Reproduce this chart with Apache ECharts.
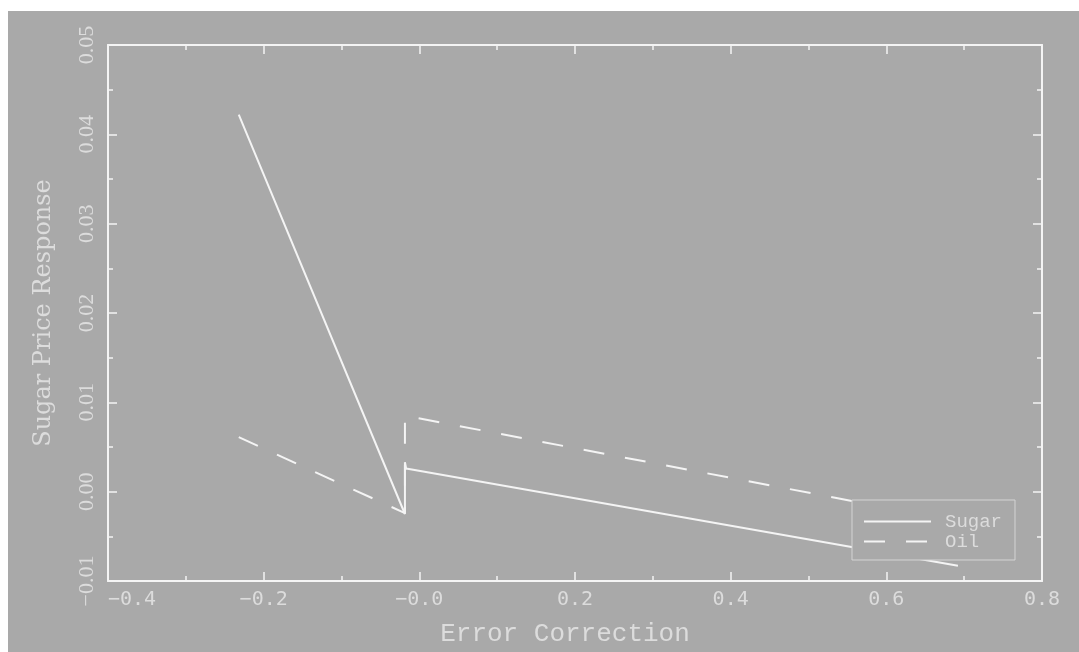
<!DOCTYPE html>
<html>
<head>
<meta charset="utf-8">
<script src="https://cdn.jsdelivr.net/npm/echarts@6/dist/echarts.min.js"></script>
<style>
  body { margin: 0; background: #ffffff; }
  #mixChart { position: absolute; left: 8px; top: 11px; width: 1071px; height: 641px; }
</style>
</head>
<body>
<div id="mixChart"></div>
<script>
// values
const sugarX = [-0.232, -0.0185, -0.0185, -0.017, 0.692]
const sugarY = [0.0422, -0.0025, 0.0033, 0.0026, -0.0083]
const oilX = [-0.232, -0.0185, -0.0185, 0.692]
const oilY = [0.0061, -0.0024, 0.0085, -0.0033]
const xTickLabels = ['\u22120.4', '\u22120.2', '\u22120.0', '0.2', '0.4', '0.6', '0.8']
const yTickLabels = ['\u22120.01', '0.00', '0.01', '0.02', '0.03', '0.04', '0.05']

const bg = '#a9a9a9'
const fg = '#f4f4f4'
const txt = '#dcdcdc'

const pairs = (xs, ys) => xs.map((x, i) => [x, ys[i]])

const xBase = (pos, showLabel) => ({
  type: 'value',
  position: pos,
  min: -0.4,
  max: 0.8,
  interval: 0.2,
  splitLine: { show: false },
  axisLine: { show: true, onZero: false, lineStyle: { color: fg, width: 2 } },
  axisTick: { show: true, inside: true, length: 9, lineStyle: { color: fg, width: 1.5 } },
  minorTick: { show: true, splitNumber: 2, length: 5, lineStyle: { color: fg, width: 1.5 } },
  axisLabel: {
    show: showLabel,
    margin: 9,
    color: txt,
    fontFamily: 'DejaVu Sans Mono',
    fontSize: 20,
    alignMinLabel: 'left',
    formatter: (v, i) => xTickLabels[i]
  }
})

const yBase = (pos, showLabel) => ({
  type: 'value',
  position: pos,
  min: -0.01,
  max: 0.05,
  interval: 0.01,
  splitLine: { show: false },
  axisLine: { show: true, onZero: false, lineStyle: { color: fg, width: 2 } },
  axisTick: { show: true, inside: true, length: 9, lineStyle: { color: fg, width: 1.5 } },
  minorTick: { show: true, splitNumber: 2, length: 5, lineStyle: { color: fg, width: 1.5 } },
  axisLabel: {
    show: showLabel,
    rotate: 90,
    margin: 10,
    color: txt,
    fontFamily: 'Liberation Serif',
    fontSize: 22,
    formatter: (v, i) => yTickLabels[i]
  }
})

const myChart = echarts.init(document.getElementById('mixChart'))
myChart.setOption({
  animation: false,
  backgroundColor: bg,
  grid: { left: 100, top: 34, right: 37, bottom: 71 },
  legend: {
    data: ['Sugar', 'Oil'],
    orient: 'vertical',
    left: 844,
    top: 489,
    padding: [12, 13, 9, 11],
    itemWidth: 67,
    itemHeight: 14,
    itemGap: 1,
    selectedMode: false,
    z: 10,
    backgroundColor: bg,
    borderColor: '#d4d4d4',
    borderWidth: 1,
    itemStyle: { opacity: 0 },
    textStyle: {
      color: txt,
      fontFamily: 'Liberation Mono',
      fontSize: 19,
      padding: [0, 0, 0, 9]
    }
  },
  xAxis: [
    Object.assign(xBase('bottom', true), {
      name: 'Error Correction',
      nameLocation: 'middle',
      nameGap: 40,
      nameTextStyle: { color: txt, fontFamily: 'Liberation Mono', fontSize: 26, padding: [0, 20, 0, 0] }
    }),
    xBase('top', false)
  ],
  yAxis: [
    Object.assign(yBase('left', true), {
      name: 'Sugar Price Response',
      nameLocation: 'middle',
      nameGap: 52,
      nameTextStyle: { color: txt, fontFamily: 'DejaVu Serif', fontSize: 24 }
    }),
    yBase('right', false)
  ],
  series: [
    {
      name: 'Sugar',
      type: 'line',
      xAxisIndex: 0,
      yAxisIndex: 0,
      symbol: 'none',
      lineStyle: { color: fg, width: 2 },
      itemStyle: { color: fg },
      data: pairs(sugarX, sugarY)
    },
    {
      name: 'Oil',
      type: 'line',
      xAxisIndex: 0,
      yAxisIndex: 0,
      symbol: 'none',
      lineStyle: { color: fg, width: 2, type: [21, 21] },
      itemStyle: { color: fg },
      data: pairs(oilX, oilY)
    }
  ]
})
</script>
</body>
</html>
